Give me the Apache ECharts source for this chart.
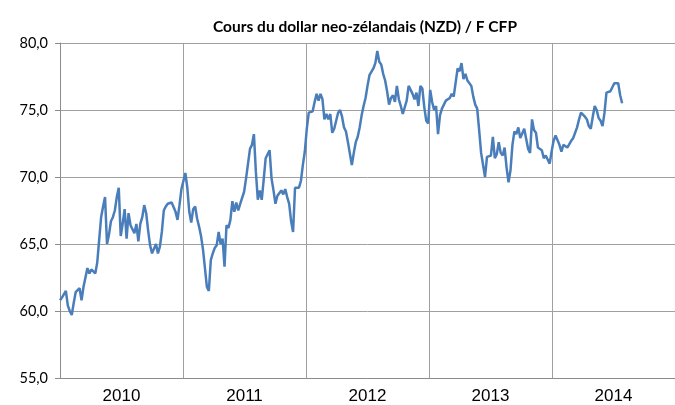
<!DOCTYPE html>
<html>
<head>
<meta charset="utf-8">
<script src="https://cdn.jsdelivr.net/npm/echarts@6/dist/echarts.min.js"></script>
<style>
html,body{margin:0;padding:0;background:#fff}
#main{width:675px;height:405px}
</style>
</head>
<body>
<div id="main"></div>
<script>
// libellés des années (centrés dans chaque année)
var years = ['2010', '2011', '2012', '2013', '2014']
var yMin = 55, yMax = 80, yStep = 5

// cours NZD / F CFP, un relevé environ tous les 6 jours depuis début 2010
var startYear = 2010
var stepYears = 0.015924
var nzd = [
    60.8, 61.0, 61.1, 61.5, 60.4, 60.0, 59.7, 60.6, 61.4, 61.4,
    61.7, 60.8, 61.8, 62.5, 63.2, 62.8, 63.1, 63.1, 62.8, 63.6,
    65.3, 67.0, 67.8, 68.5, 65.0, 65.7, 66.7, 67.0, 67.5, 68.5,
    69.2, 65.6, 66.5, 67.6, 65.4, 67.3, 66.4, 66.4, 65.8, 66.5,
    65.2, 66.5, 67.0, 67.9, 67.3, 66.0, 64.9, 64.3, 64.4, 65.0,

    64.3, 64.8, 65.9, 67.5, 67.8, 68.0, 68.0, 68.1, 68.1, 67.4,
    66.8, 67.9, 69.1, 69.2, 70.3, 69.2, 67.4, 66.6, 67.6, 67.8,
    66.9, 66.3, 65.6, 64.6, 63.2, 61.8, 61.5, 63.8, 64.3, 64.7,
    64.9, 65.9, 65.0, 65.4, 63.3, 66.4, 66.2, 66.8, 68.2, 67.4,
    68.1, 67.5, 68.0, 67.9, 68.9, 69.9, 71.0, 72.1,

    72.4, 73.2, 70.4, 68.3, 69.0, 68.3, 69.8, 71.4, 71.7, 72.0,
    69.9, 69.0, 68.0, 68.6, 68.7, 69.0, 68.7, 69.1, 68.5, 68.0,
    66.7, 65.9, 69.2, 69.1, 69.2, 69.7, 70.9, 71.9, 73.6, 74.8,
    74.7, 74.9, 75.6, 76.2, 75.7, 76.2, 75.8, 74.3, 74.7, 74.3,
    74.7, 73.3, 73.6, 74.2, 74.8,

    75.0, 74.5, 73.7, 73.4, 72.6, 72.5, 70.9, 71.8, 72.6, 73.0,
    73.7, 74.6, 75.3, 75.9, 76.8, 77.6, 77.7, 78.1, 78.5, 79.4,
    78.6, 78.4, 77.7, 77.2, 76.4, 75.4, 75.9, 76.1, 75.6, 76.8,
    75.8, 75.3, 74.7, 74.7, 75.7, 76.8, 76.5, 76.2, 75.8, 76.3,
    75.3, 76.8, 76.6, 75.2, 74.2, 74.0, 76.5, 75.6, 75.0,

    75.3, 73.2, 74.6, 75.1, 75.1, 75.7, 75.6, 75.9, 76.2, 76.0,
    76.1, 78.1, 77.9, 78.5, 77.3, 77.7, 77.2, 77.2, 76.8, 76.0,
    75.4, 75.1, 73.5, 71.8, 71.9, 70.0, 71.5, 71.4, 71.6, 73.0,
    71.4, 71.7, 72.6, 71.8, 71.6, 72.2, 70.7, 69.6, 70.5, 72.4,
    73.4, 73.2, 73.7, 72.9, 73.0, 73.6, 73.6, 72.1,

    71.8, 74.3, 73.5, 73.3, 72.2, 72.1, 72.0, 71.4, 71.6, 71.5,
    71.0, 71.9, 72.7, 73.1, 73.0, 72.4, 71.9, 72.4, 72.5, 72.2,
    72.3, 72.7, 72.9, 73.3, 73.7, 74.3, 74.8, 74.9, 74.5, 74.3,
    73.8, 73.6, 74.5, 75.3, 75.0, 74.4, 74.2, 73.8, 74.8, 76.3,
    76.3, 76.4, 76.5, 77.0, 77.1, 77.0, 76.1, 75.5
]

var points = nzd.map(function(v, i){
    return [startYear + i * stepYears, v]
})

var myChart = echarts.init(document.getElementById('main'))
var option = {
    animation: false,
    backgroundColor: '#fff',
    title: {
        text: 'Cours du dollar neo-zélandais (NZD) / F CFP',
        left: 360,
        top: 14,
        textAlign: 'center',
        textStyle: {
            fontFamily: 'Lato',
            fontWeight: 'bold',
            fontSize: 15.5,
            color: '#000'
        }
    },
    grid: {
        left: 60,
        right: -13,
        top: 43,
        bottom: 22
    },
    xAxis: [
        {
            type: 'value',
            min: startYear,
            max: startYear + years.length,
            interval: 1,
            axisLine: { show: true, lineStyle: { color: '#8c8c8c', width: 1 } },
            axisTick: { show: false },
            axisLabel: { show: false },
            splitLine: { show: true, lineStyle: { color: '#a0a0a0', width: 1 } }
        },
        {
            type: 'category',
            position: 'bottom',
            offset: 0,
            data: years,
            boundaryGap: true,
            axisLine: { show: false },
            axisTick: { show: false },
            splitLine: { show: false },
            axisLabel: {
                margin: 10,
                fontFamily: 'Liberation Sans',
                fontSize: 17,
                color: '#000'
            }
        }
    ],
    yAxis: {
        type: 'value',
        min: yMin,
        max: yMax,
        interval: yStep,
        axisLine: { show: true, lineStyle: { color: '#8c8c8c', width: 1 } },
        axisTick: { show: true, length: 5, lineStyle: { color: '#8c8c8c' } },
        splitLine: { show: true, lineStyle: { color: '#a0a0a0', width: 1 } },
        axisLabel: {
            margin: 12,
            fontFamily: 'Lato',
            fontSize: 14.5,
            color: '#000',
            formatter: function(v){ return v.toFixed(1).replace('.', ',') }
        }
    },
    series: [
        {
            type: 'line',
            xAxisIndex: 0,
            data: points,
            showSymbol: false,
            symbol: 'none',
            lineStyle: { color: '#4a7ebb', width: 2.5 }
        }
    ]
}
myChart.setOption(option)
</script>
</body>
</html>
